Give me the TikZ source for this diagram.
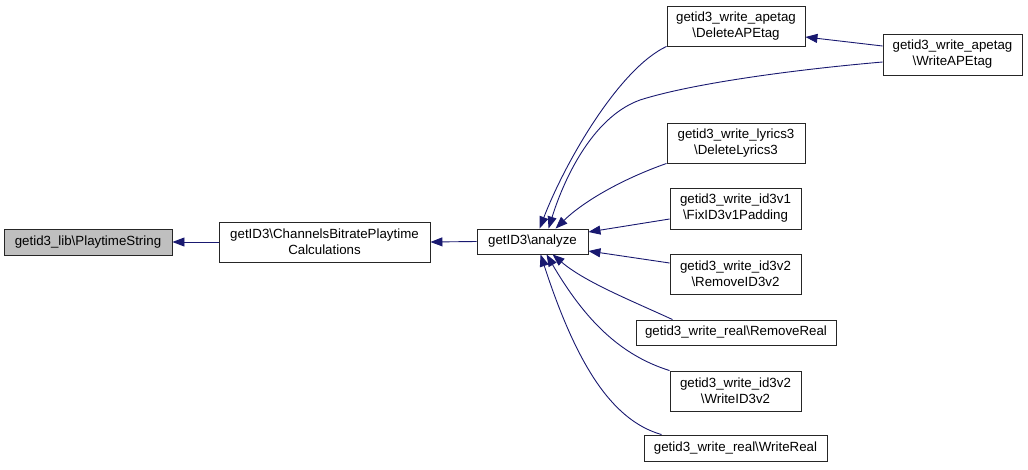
\documentclass[tikz,border=0pt]{standalone}
\usepackage{fontspec}
\setmainfont{Liberation Sans}
\usetikzlibrary{arrows.meta}
\definecolor{edgeblue}{HTML}{191970}
\definecolor{boxgray}{HTML}{BFBFBF}
\tikzset{
  fn/.style={draw=black!85, line width=0.9pt, rectangle, inner sep=0pt, align=center,
    font=\fontsize{13.3}{16}\selectfont},
  call/.style={draw=edgeblue, line width=0.9pt, -{Triangle[length=12pt,width=9pt]}, fill=none},
}
\begin{document}
\begin{tikzpicture}[x=1pt,y=-1pt]
\useasboundingbox (0,0) rectangle (1028,469);
% nodes
\node[fn, fill=boxgray, minimum width=168, minimum height=26] (play) at (88,242) {getid3\_lib\textbackslash PlaytimeString};
\node[fn, minimum width=211, minimum height=40] (chan) at (324.5,242) {getID3\textbackslash ChannelsBitratePlaytime\\Calculations};
\node[fn, minimum width=111, minimum height=25] (ana) at (532.5,241.5) {getID3\textbackslash analyze};
\node[fn, minimum width=138, minimum height=40] (dape) at (736,26) {getid3\_write\_apetag\\\textbackslash DeleteAPEtag};
\node[fn, minimum width=139, minimum height=41] (wape) at (952.5,54.5) {getid3\_write\_apetag\\\textbackslash WriteAPEtag};
\node[fn, minimum width=138, minimum height=40] (dly) at (736,143) {getid3\_write\_lyrics3\\\textbackslash DeleteLyrics3};
\node[fn, minimum width=131, minimum height=41] (fix) at (735.5,208.5) {getid3\_write\_id3v1\\\textbackslash FixID3v1Padding};
\node[fn, minimum width=131, minimum height=40] (rid) at (735.5,274) {getid3\_write\_id3v2\\\textbackslash RemoveID3v2};
\node[fn, minimum width=200, minimum height=25] (rreal) at (736,332.5) {getid3\_write\_real\textbackslash RemoveReal};
\node[fn, minimum width=131, minimum height=40] (wid) at (735.5,391) {getid3\_write\_id3v2\\\textbackslash WriteID3v2};
\node[fn, minimum width=183, minimum height=26] (wreal) at (735.5,448) {getid3\_write\_real\textbackslash WriteReal};
% edges
\draw[call] (chan.west) -- (play.east);
\draw[call] (ana.west) -- (chan.east);
\draw[call] (dape.south west) .. controls (620,68) and (566,160) .. ([xshift=63]ana.north west);
\draw[call] ([yshift=-7.5]wape.west) .. controls (790,70) and (690,84) .. (640,100)
   .. controls (590,118) and (562,185) .. ([xshift=72]ana.north west);
\draw[call] ([yshift=8.5]wape.west) -- ([yshift=-11]dape.east);
\draw[call] (dly.south west) .. controls (625,178) and (585,200) .. ([xshift=79]ana.north west);
\draw[call] ([yshift=-10.5]fix.west) -- ([yshift=9.5]ana.east);
\draw[call] ([yshift=11]rid.west) -- ([yshift=-9.5]ana.east);
\draw[call] ([xshift=37]rreal.north west) .. controls (630,300) and (585,282) .. ([xshift=76]ana.south west);
\draw[call] (wid.north west) .. controls (620,355) and (585,320) .. ([xshift=70]ana.south west);
\draw[call] ([xshift=18]wreal.north west) .. controls (610,420) and (575,360) .. ([xshift=64]ana.south west);
\end{tikzpicture}
\end{document}
